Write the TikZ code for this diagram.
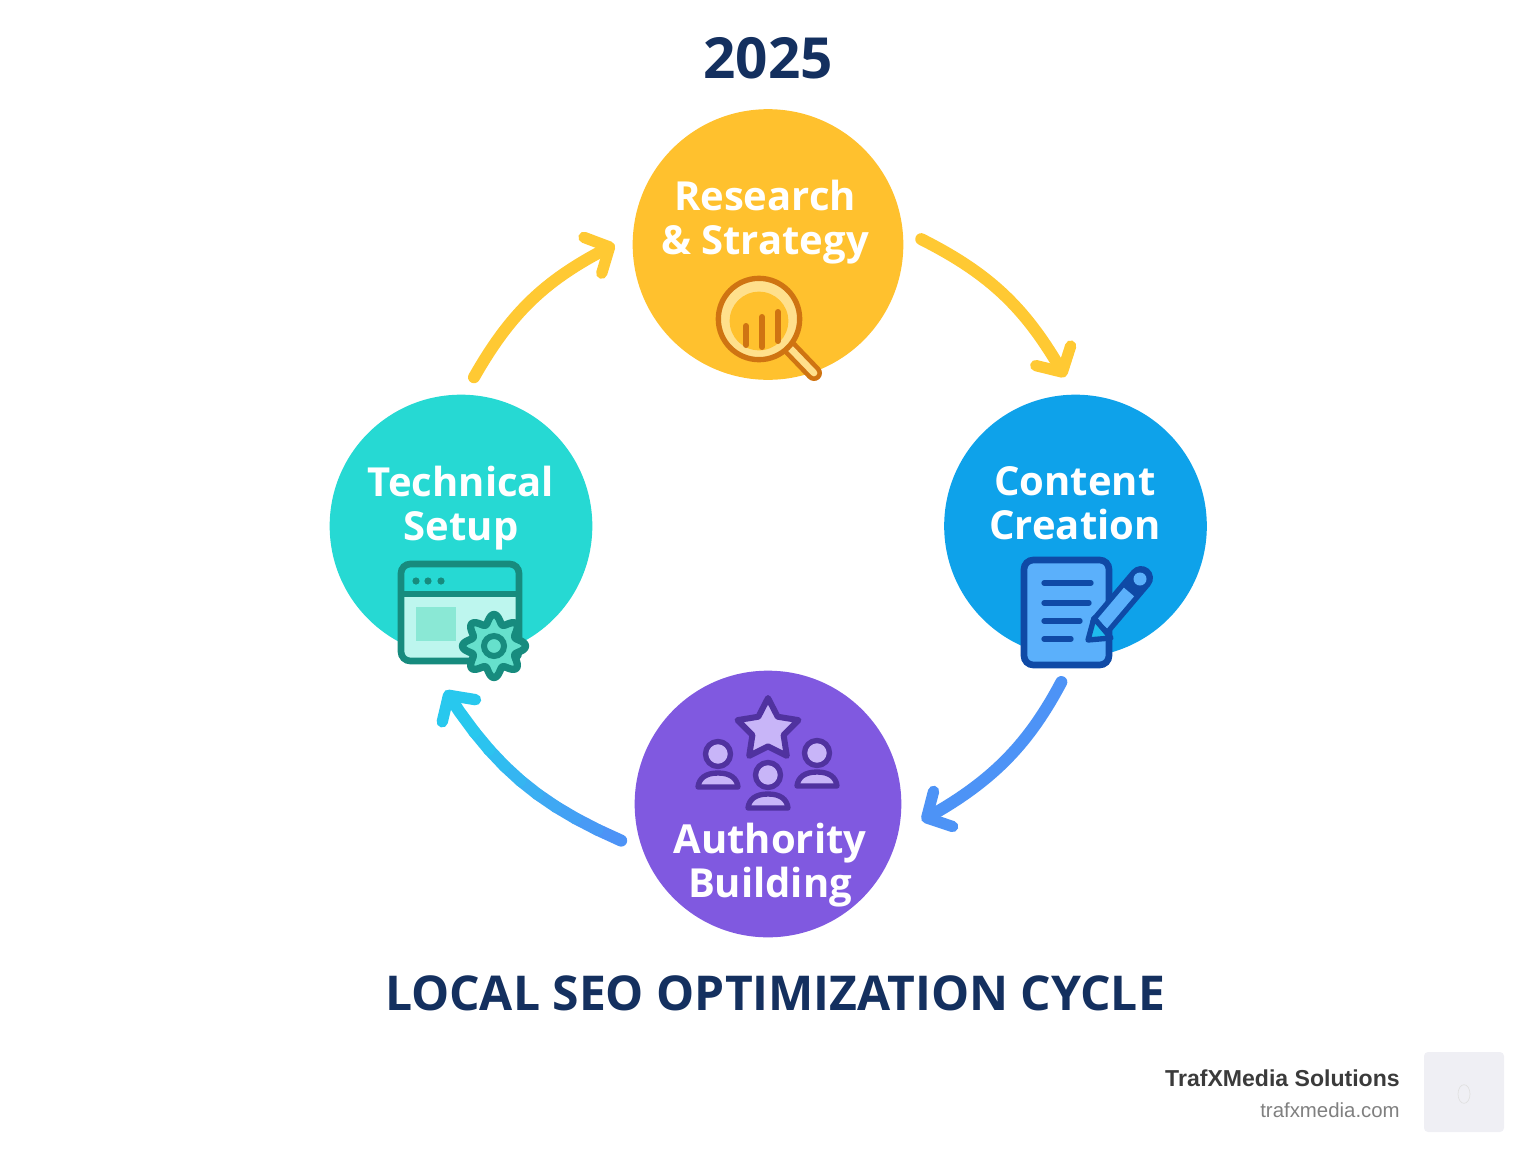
\documentclass[tikz,border=0pt]{standalone}
\usepackage{fontspec}
\setmainfont{Open Sans}
\newfontfamily\footerfont{Liberation Sans}
\usepackage{tikz}
\usetikzlibrary{arrows.meta,bending,shapes.geometric}

\definecolor{navytitle}{HTML}{14305F}
\definecolor{researchfill}{HTML}{FFC12E}
\definecolor{contentfill}{HTML}{0EA2EA}
\definecolor{technicalfill}{HTML}{26D9D3}
\definecolor{authorityfill}{HTML}{8059E0}
\definecolor{arrowyellow}{HTML}{FFC933}
\definecolor{arrowblue}{HTML}{4D93F6}
\definecolor{arrowcyan}{HTML}{28C8EE}
\definecolor{lensdark}{HTML}{CF7412}
\definecolor{lenslight}{HTML}{FFE08C}
\definecolor{windowdark}{HTML}{178B7E}
\definecolor{windowlight}{HTML}{BDF6EE}
\definecolor{windowpanel}{HTML}{8AE8D5}
\definecolor{gearfill}{HTML}{66E0CC}
\definecolor{docdark}{HTML}{0F4AA6}
\definecolor{doclight}{HTML}{5BB0FB}
\definecolor{stardark}{HTML}{50329F}
\definecolor{starlight}{HTML}{C8B5F8}
\definecolor{tilefill}{HTML}{EFEFF4}

\tikzset{
  stagecircle/.style={circle,inner sep=0pt,outer sep=13.5pt},
  stagelabel/.style={align=center,text=white,font=\fontsize{30}{33}\selectfont\bfseries},
  headline/.style={text=navytitle,font=\fontsize{42.5}{46}\selectfont\bfseries},
  cyclearrow/.style={line width=9pt,line cap=round,-{Straight Barb[round,length=14pt,width=30pt,line width=8.5pt]}},
  personline/.style={draw=stardark,fill=starlight,line width=4pt,line join=round},
}
\newcommand{\drawperson}[2]{%
  \draw[personline] (#1,#2) circle (12.5);
  \draw[personline] (#1-20,#2+33) .. controls (#1-19,#2+24) and (#1-12,#2+19) .. (#1,#2+19) .. controls (#1+12,#2+19) and (#1+19,#2+24) .. (#1+20,#2+33) -- cycle;
}

\begin{document}
\begin{tikzpicture}[x=0.75pt,y=0.75pt,yscale=-1,xscale=1]
\useasboundingbox (0,0) rectangle (1536,1154);

%Shape: Circle
\node[stagecircle,fill=researchfill,minimum size=203pt] (research) at (768,244.5) {};
\node[stagecircle,fill=contentfill,minimum size=197pt] (content) at (1075.5,526) {};
\node[stagecircle,fill=technicalfill,minimum size=197pt] (technical) at (461,526) {};
\node[stagecircle,fill=authorityfill,minimum size=200pt] (authority) at (768,804) {};

%Curve Lines
\draw[cyclearrow,arrowyellow] (research.2) to[bend right=17] (content.94);
\draw[cyclearrow,arrowyellow] (technical.85) to[bend right=17] (research.180);
\draw[cyclearrow,arrowblue,shorten <=6pt,shorten >=3pt] (content.-94) to[bend right=17] (authority.-7);
%Curve Lines with colour running from blue to cyan
\coordinate (sweepend) at ([yshift=12pt]technical.264);
\path (authority.194) to[bend right=17] coordinate[pos=0] (sweep0) coordinate[pos=.1] (sweep1) coordinate[pos=.2] (sweep2) coordinate[pos=.3] (sweep3) coordinate[pos=.4] (sweep4) coordinate[pos=.5] (sweep5) coordinate[pos=.6] (sweep6) coordinate[pos=.7] (sweep7) coordinate[pos=.8] (sweep8) coordinate[pos=.9] (sweep9) (sweepend);
\foreach \k [evaluate=\k as \n using int(\k+1)] in {0,...,7}{
  \pgfmathtruncatemacro{\mixval}{\k*13}
  \draw[line width=9pt,line cap=round,color=arrowcyan!\mixval!arrowblue] (sweep\k) -- (sweep\n);
}
\draw[cyclearrow,arrowcyan] (sweep8) -- (sweep9) -- (sweepend);

%Shape: Magnifier
\draw[line width=12pt,lensdark,line cap=round] (790,348) -- (814,373);
\draw[line width=5pt,lenslight,line cap=round] (790,348) -- (814,373);
\node[circle,draw=lensdark,line width=4pt,fill=lenslight,minimum size=61pt,inner sep=0pt] (lensring) at (759,319) {};
\node[circle,fill=researchfill,minimum size=44pt,inner sep=0pt] (lensglass) at (759,321) {};
\draw[line width=4.5pt,lensdark,line cap=round] (746,326) -- (746,345);
\draw[line width=4.5pt,lensdark,line cap=round] (762,317) -- (762,347);
\draw[line width=4.5pt,lensdark,line cap=round] (778,312) -- (778,341);

%Shape: Browser window
\fill[windowlight,rounded corners=7pt] (401,564) rectangle (519,661);
\begin{scope}
  \clip[rounded corners=7pt] (401,564) rectangle (519,661);
  \fill[technicalfill] (401,564) rectangle (519,594);
\end{scope}
\draw[windowdark,line width=5pt,rounded corners=7pt] (401,564) rectangle (519,661);
\draw[windowdark,line width=4.5pt] (401,594) -- (519,594);
\foreach \dotx in {416,428,441}{
  \fill[windowdark] (\dotx,581) circle (3.6);
}
\fill[windowpanel] (416,607) rectangle (456,641);
\draw[windowdark,line width=5.5pt,line join=round,fill=gearfill] plot[domain=0:360,samples=145,smooth] ({494+(27+4.5*cos(8*\x))*cos(\x)},{646+(27+4.5*cos(8*\x))*sin(\x)}) -- cycle;
\draw[windowdark,line width=4.5pt] (494,646) circle (10);

%Shape: Document and pencil
\draw[docdark,line width=5pt,fill=doclight,rounded corners=7pt] (1024,560) rectangle (1109,665);
\draw[docdark,line width=4pt,line cap=round] (1044,583) -- (1091,583);
\draw[docdark,line width=4pt,line cap=round] (1044,603) -- (1089,603);
\draw[docdark,line width=4pt,line cap=round] (1044,621) -- (1080,621);
\draw[docdark,line width=4pt,line cap=round] (1044,639) -- (1071,639);
\draw[docdark,line width=18pt,line cap=round] (1102,624) -- (1141,578);
\draw[doclight,line width=10pt] (1102,624) -- (1129,592);
\fill[doclight] (1140,579) circle (6.5);
\draw[docdark,line width=4pt,line join=round,fill=arrowcyan!65!contentfill] (1088,640) -- (1094,618) -- (1111,638) -- cycle;

%Shape: Star and people
\node[star,star points=5,star point ratio=1.95,draw=stardark,fill=starlight,line width=4.5pt,line join=round,minimum size=48pt,inner sep=0pt] (ratingstar) at (768,730) {};
\drawperson{718}{754}
\drawperson{817}{753}
\drawperson{768}{775}

% Text Node
\node[headline] (yeartitle) at (768,58) {2025};
\node[stagelabel] (researchlabel) at (765,222) {Research\\\& Strategy};
\node[stagelabel] (contentlabel) at (1075,503) {Content\\Creation};
\node[stagelabel] (technicallabel) at (461,508) {Technical\\Setup};
\node[stagelabel] (authoritylabel) at (770,865) {Authority\\Building};
\node[text=navytitle,font=\fontsize{36}{40}\selectfont\bfseries] (cycletitle) at (775,993) {LOCAL SEO OPTIMIZATION CYCLE};

%Shape: Footer tile
\node[draw=none,fill=tilefill,rounded corners=3pt,minimum size=60pt,inner sep=0pt] (footertile) at (1464,1092) {};
\node[ellipse,draw=black!12,line width=0.5pt,minimum width=9pt,minimum height=14pt,inner sep=0pt] (tilemark) at (1464,1094) {};
\node[font=\footerfont\bfseries\fontsize{17.3}{20}\selectfont,text=black!77,anchor=base east,inner sep=0pt] (companyname) at (1400,1086) {TrafXMedia Solutions};
\node[font=\footerfont\fontsize{15.3}{18}\selectfont,text=black!50,anchor=base east,inner sep=0pt] (companysite) at (1400,1117) {trafxmedia.com};
\end{tikzpicture}
\end{document}
